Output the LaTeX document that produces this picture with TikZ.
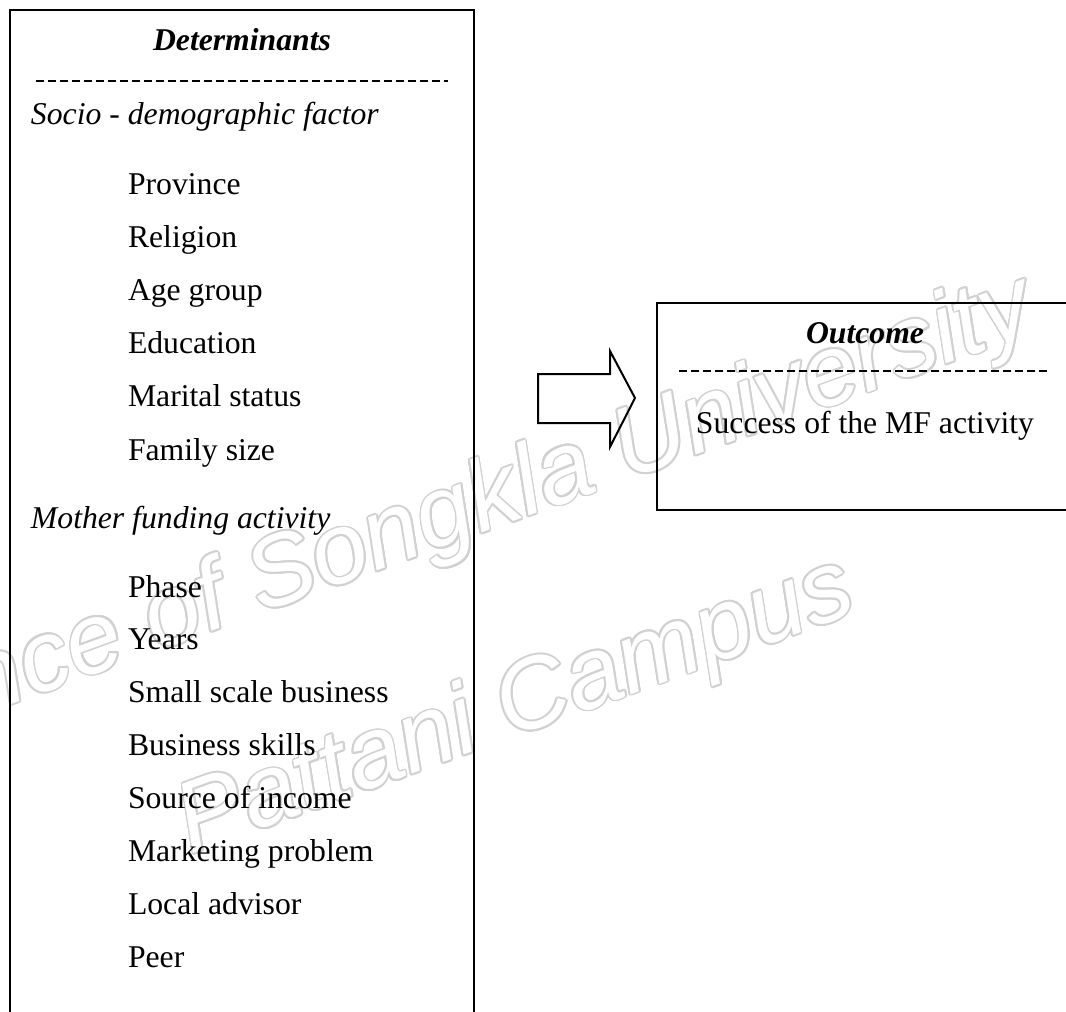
\documentclass[tikz,border=0pt]{standalone}
\usepackage{fontspec}
\setmainfont{Liberation Serif}
\newfontfamily\wmfont{Liberation Sans}
\usepackage{contour}
\contourlength{0.9pt}
\begin{document}
\begin{tikzpicture}[x=0.5pt, y=-0.5pt, line width=1pt,
    every node/.style={inner sep=0pt, font=\fontsize{15.85}{19}\selectfont},
    heading/.style={font=\fontsize{15.85}{19}\selectfont\bfseries\itshape, anchor=base},
    group/.style={font=\fontsize{15.85}{19}\selectfont\itshape, anchor=base west},
    item/.style={anchor=base west},
    rule/.style={line width=1pt, dash pattern=on 4pt off 2pt},
    watermark/.style={font=\fontsize{50}{50}\selectfont\wmfont\itshape,
    text=white, rotate=20}]
    \useasboundingbox (0,0) rectangle (1066,1012);
    \clip (0,0) rectangle (1066,1012);
    % faint watermark behind everything
    \node[watermark, anchor=base east] (wm1) at (1040,330)
        {\contour{black!18}{Prince of Songkla University}};
    \node[watermark, anchor=base west] (wm2) at (190,855)
        {\contour{black!18}{Pattani Campus}};
    % determinants box
    \draw (10,10) rectangle (474,1030);
    \node[heading] (det) at (242,50) {Determinants};
    \draw[rule] (36,81) -- (448,81);
    \node[group] (socio) at (30,124) {Socio - demographic factor};
    \foreach \txt [count=\i] in {Province, Religion, Age group, Education,
        Marital status, Family size}
        \node[item] (s\i) at (127,{194+53.2*(\i-1)}) {\txt};
    \node[group] (mother) at (30,528) {Mother funding activity};
    \foreach \txt [count=\i] in {Phase, Years, Small scale business,
        Business skills, Source of income, Marketing problem,
        Local advisor, Peer}
        \node[item] (m\i) at (127,{597+52.9*(\i-1)}) {\txt};
    % block arrow
    \draw (538,374) -- (610,374) -- (610,351) -- (635,398)
        -- (610,447) -- (610,423) -- (538,423) -- cycle;
    % outcome box
    \draw (657,303) rectangle (1073,510);
    \node[heading] (out) at (865,343) {Outcome};
    \draw[rule] (679,371) -- (1050,371);
    \node[anchor=base] (succ) at (865,433) {Success of the MF activity};
\end{tikzpicture}
\end{document}
